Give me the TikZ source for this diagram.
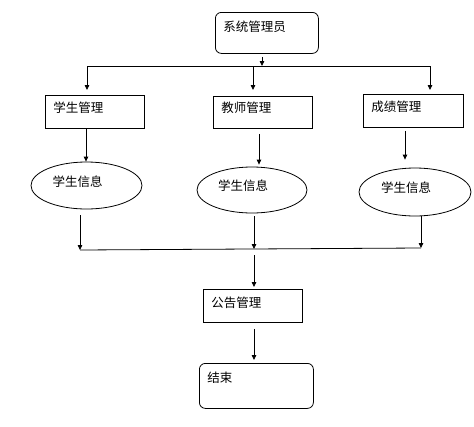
\documentclass[tikz,border=0pt]{standalone}
\usepackage{fontspec}
\setmainfont{Noto Sans CJK SC}
\usetikzlibrary{shapes.geometric,arrows.meta}
\begin{document}
\begin{tikzpicture}[x=1pt,y=-1pt,line width=0.8pt,font=\fontsize{12.5}{15}\selectfont]
    \tikzset{boite/.style={draw, anchor=north west, inner xsep=8pt, inner ysep=0pt, align=left}}
    \tikzset{ovale/.style={draw, ellipse, inner sep=0pt, text height=11pt, text depth=9.5pt}}
    \tikzset{fleche/.style={-{Triangle[length=5pt,width=4.5pt]}}}
    \useasboundingbox (0,0) rectangle (474,426);
    \node[boite, rounded corners=6pt, text width=87pt, text height=19pt, text depth=22pt] (admin) at (215,12) {系统管理员};
    \node[boite, text width=83pt, text height=17pt, text depth=16pt] (etu) at (45,95) {学生管理};
    \node[boite, text width=83pt, text height=16pt, text depth=16pt] (prof) at (213,96) {教师管理};
    \node[boite, text width=84pt, text height=17pt, text depth=16pt] (notes) at (363,94) {成绩管理};
    \node[ovale, minimum width=111pt, minimum height=47pt] (info1) at (86.5,185.5) {学生信息\kern18pt};
    \node[ovale, minimum width=110pt, minimum height=46pt] (info2) at (252,190) {学生信息\kern18pt};
    \node[ovale, minimum width=112pt, minimum height=48pt] (info3) at (415,192) {学生信息\kern18pt};
    \node[boite, text width=83pt, text height=18pt, text depth=15pt] (annonce) at (203,289) {公告管理};
    \node[boite, rounded corners=6pt, text width=98pt, text height=19pt, text depth=26pt] (fin) at (199,363) {结束};
    \coordinate (haut) at (262,66);
    \coordinate (h1) at (87,66);
    \coordinate (h2) at (253,66);
    \coordinate (h3) at (430,66);
    \coordinate (k1) at (86,0);
    \coordinate (k2) at (259,0);
    \coordinate (k3) at (405,0);
    \coordinate (b1) at (80,250);
    \coordinate (b2) at (254,249);
    \coordinate (b3) at (421,248);
    \draw[fleche, shorten <=3pt] (admin.south -| haut) -- (haut);
    \draw (h1) -- (h3);
    \draw[fleche, shorten >=5pt] (h1) -- (h1 |- etu.north);
    \draw[fleche, shorten >=6pt] (h2) -- (h2 |- prof.north);
    \draw[fleche, shorten >=4pt] (h3) -- (h3 |- notes.north);
    \draw[fleche] (etu.south -| k1) -- (k1 |- info1.north);
    \draw[fleche, shorten <=5pt, shorten >=2pt] (prof.south -| k2) -- (k2 |- info2.north);
    \draw[fleche, shorten <=3pt, shorten >=8pt] (notes.south -| k3) -- (k3 |- info3.north);
    \draw[fleche, shorten <=6pt] (info1.south -| b1) -- (b1);
    \draw[fleche, shorten <=3pt] (info2.south -| b2) -- (b2);
    \draw[fleche] (info3.south -| b3) -- (b3);
    \draw (b1) -- (b3);
    \draw[fleche, shorten <=6pt, shorten >=2pt] (b2) -- (b2 |- annonce.north);
    \draw[fleche, shorten <=6pt, shorten >=3pt] (annonce.south -| b2) -- (b2 |- fin.north);
\end{tikzpicture}
\end{document}
